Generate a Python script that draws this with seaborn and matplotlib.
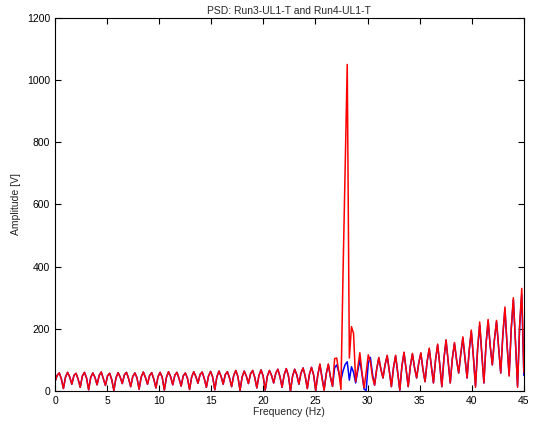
import numpy as np
import pandas as pd
import matplotlib
matplotlib.use("Agg")
import matplotlib.pyplot as plt
import seaborn as sns

# frequency grid (Hz)
freq = np.linspace(0, 45, 224)

# Run3-UL1-T (blue)
run3 = [
    30, 50, 58, 40,  8, 45, 60, 45,  22, 50, 57, 38,  12, 48, 60, 42,
    4, 44, 58, 44,  20, 50, 61, 40,  18, 49, 57, 36,  2, 42, 59, 45,
    24, 52, 60, 40,  14, 47, 58, 42,  6, 45, 61, 44,  22, 50, 59, 38,
    10, 46, 60, 44,  3, 44, 62, 46,  20, 51, 60, 40,  16, 49, 58, 41,
    5, 45, 62, 46,  25, 53, 61, 40,  12, 48, 63, 45,  4, 46, 64, 47,
    22, 53, 62, 42,  14, 50, 66, 46,  2, 45, 64, 48,  24, 55, 66, 44,
    10, 50, 68, 48,  3, 48, 66, 50,  26, 57, 70, 46,  12, 52, 72, 50,
    0, 48, 70, 52,  22, 58, 74, 48,  8, 54, 76, 52,  2, 52, 85, 45,
    4, 55, 85, 45,  15, 75, 84, 60,  35, 65, 85, 94,  35, 78, 60, 26,
    65, 100, 55, 6,  2, 90, 108, 55,  19, 70, 106, 70,  42, 85, 113, 65,
    14, 75, 113, 60,  3, 80, 123, 70,  14, 80, 119, 75,  42, 90, 121, 70,
    30, 95, 135, 80,  26, 100, 148, 85,  14, 105, 162, 95,  26, 105, 153, 100,
    58, 120, 170, 105,  42, 130, 191, 110,  16, 135, 212, 120,  26, 150, 225, 145,
    84, 165, 223, 140,  58, 180, 263, 150,  51, 200, 293, 160,  16, 210, 309, 50,
]

# Run4-UL1-T (red)
run4 = [
    30, 50, 58, 40,  8, 45, 60, 45,  22, 50, 57, 38,  12, 48, 60, 42,
    4, 44, 58, 44,  20, 50, 61, 40,  18, 49, 57, 36,  2, 42, 59, 45,
    24, 52, 60, 40,  14, 47, 58, 42,  6, 45, 61, 44,  22, 50, 59, 38,
    10, 46, 60, 44,  3, 44, 62, 46,  20, 51, 60, 40,  16, 49, 58, 41,
    5, 45, 62, 46,  25, 53, 61, 40,  12, 48, 63, 45,  4, 46, 64, 47,
    22, 53, 62, 42,  14, 50, 66, 46,  2, 45, 64, 48,  24, 55, 66, 44,
    10, 50, 68, 48,  3, 48, 66, 50,  26, 57, 70, 46,  12, 52, 72, 50,
    0, 48, 70, 52,  22, 58, 74, 48,  8, 54, 76, 52,  2, 52, 87, 40,
    2, 55, 87, 45,  15, 104, 106, 60,  5, 380, 720, 1050,  106, 207, 185, 30,
    75, 123, 60, 10,  60, 116, 95, 45,  19, 70, 108, 70,  42, 85, 115, 65,
    14, 75, 115, 60,  3, 80, 125, 70,  14, 80, 121, 75,  42, 90, 123, 70,
    30, 95, 138, 80,  26, 100, 151, 85,  14, 105, 165, 95,  26, 105, 156, 100,
    58, 120, 174, 105,  42, 130, 196, 110,  12, 135, 222, 120,  26, 150, 230, 145,
    84, 165, 227, 140,  58, 180, 270, 150,  48, 200, 300, 160,  12, 210, 330, 60,
]

xticks = list(range(0, 46, 5))
yticks = list(range(0, 1201, 200))

sns.set_style("ticks")
plt.rcParams['font.family'] = ['Liberation Sans', 'DejaVu Sans']

df3 = pd.DataFrame({'Frequency': freq, 'Amplitude': run3})
df4 = pd.DataFrame({'Frequency': freq, 'Amplitude': run4})

fig = plt.figure(figsize=(5.34, 4.28), dpi=100)
ax = fig.add_axes([0.103, 0.0864, 0.878, 0.872])

sns.lineplot(data=df3, x='Frequency', y='Amplitude', color='#0000ff', lw=1.1, ax=ax)
sns.lineplot(data=df4, x='Frequency', y='Amplitude', color='#ff0000', lw=1.1, ax=ax)

ax.set_xlim(0, 45)
ax.set_ylim(0, 1200)
ax.set_xticks(xticks)
ax.set_yticks(yticks)
ax.tick_params(direction='in', top=True, right=True, length=4, width=0.8,
               labelsize=7.5, colors='black')
for s in ax.spines.values():
    s.set_color('black')
    s.set_linewidth(0.8)

ax.set_title('PSD: Run3-UL1-T and Run4-UL1-T', fontsize=7.5, pad=3)
ax.set_xlabel('Frequency (Hz)', fontsize=7.5, labelpad=1)
ax.set_ylabel('Amplitude [V]', fontsize=7.5, labelpad=4)

fig.savefig('out.png', dpi=100)
